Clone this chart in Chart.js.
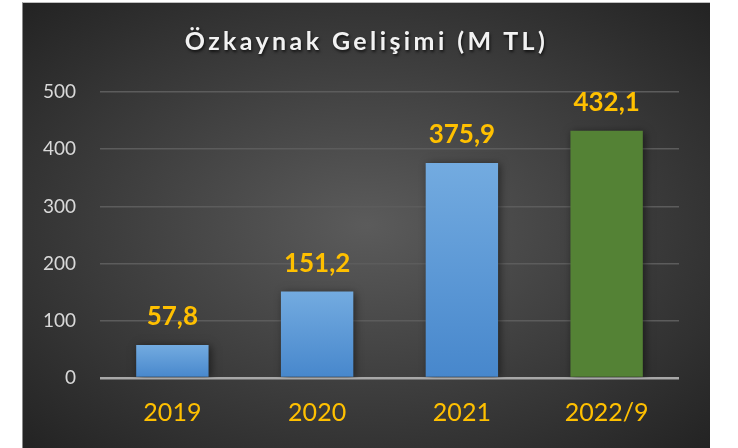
<!DOCTYPE html>
<html>
<head>
<meta charset="utf-8">
<script src="https://cdn.jsdelivr.net/npm/chart.js@4"></script>
<style>
  html, body { margin: 0; padding: 0; background: #fff; }
  #panel {
    position: absolute; left: 22px; top: 2px; width: 688px; height: 446px;
    border-top: 1px solid #bfbfbf; border-left: 1px solid #8a8a8a; box-sizing: border-box;
    background: radial-gradient(ellipse at 50% 50%, #5b5b5b 0%, #3c3c3c 55%, #232323 100%);
  }
  #title {
    position: absolute; left: 0; right: 0; top: 22px; text-align: center;
    font-family: Lato, sans-serif; font-weight: bold; font-size: 25px;
    letter-spacing: 3.4px; color: #f2f2f2; text-shadow: 1px 2px 3px rgba(0,0,0,0.7);
  }
  canvas { position: absolute; left: -1px; top: -1px; }
</style>
</head>
<body>
<div id="panel">
  <canvas id="chart" width="688" height="446"></canvas>
  <div id="title">Özkaynak Gelişimi (M TL)</div>
</div>
<script>
const years = ['2019', '2020', '2021', '2022/9'];
const equity = [57.8, 151.2, 375.9, 432.1];
const valueLabels = ['57,8', '151,2', '375,9', '432,1'];
const yTicks = [0, 100, 200, 300, 400, 500];

function barColor(ctx) {
    if (ctx.dataIndex === 3) return '#548235';
    const chart = ctx.chart;
    if (!chart.chartArea || !chart.scales.y) return '#5b9bd5';
    const top = chart.scales.y.getPixelForValue(ctx.raw);
    const bottom = chart.scales.y.getPixelForValue(0);
    const g = chart.ctx.createLinearGradient(0, top, 0, bottom);
    g.addColorStop(0, '#73abe0');
    g.addColorStop(1, '#4787cc');
    return g;
}

const barShadow = {
    id: 'barShadow',
    beforeDatasetDraw(chart) {
        const c = chart.ctx;
        c.save();
        c.shadowColor = 'rgba(0,0,0,0.5)';
        c.shadowBlur = 8;
        c.shadowOffsetX = 2;
        c.shadowOffsetY = 1;
    },
    afterDatasetDraw(chart) {
        chart.ctx.restore();
    }
};

const valueText = {
    id: 'valueText',
    afterDatasetsDraw(chart) {
        const c = chart.ctx;
        c.save();
        c.font = 'bold 26px Lato, sans-serif';
        c.fillStyle = '#ffc000';
        c.textAlign = 'center';
        c.textBaseline = 'alphabetic';
        chart.getDatasetMeta(0).data.forEach((bar, i) => {
            c.fillText(valueLabels[i], bar.x, bar.y - 20);
        });
        c.restore();
    }
};

new Chart(document.getElementById('chart'), {
    type: 'bar',
    data: {
        labels: years,
        datasets: [{
            data: equity,
            backgroundColor: barColor,
            borderWidth: 0,
            barPercentage: 0.5,
            categoryPercentage: 1
        }]
    },
    options: {
        responsive: false,
        animation: false,
        layout: { padding: { top: 90, right: 31, left: 0, bottom: 0 } },
        plugins: { legend: { display: false }, tooltip: { enabled: false } },
        scales: {
            x: {
                grid: { display: false, drawTicks: false },
                border: { display: false },
                ticks: { color: '#ffc000', font: { family: 'Lato', size: 25 }, padding: 20 },
                afterFit(s) { s.height = 70; }
            },
            y: {
                min: 0, max: 500,
                afterBuildTicks(s) { s.ticks = yTicks.map(v => ({ value: v })); },
                grid: {
                    drawTicks: false,
                    color: c => c.tick && c.tick.value === 0 ? '#a8a8a8' : '#5c5c5c',
                    lineWidth: c => c.tick && c.tick.value === 0 ? 2.5 : 1.5
                },
                border: { display: false },
                ticks: { color: '#d9d9d9', font: { family: 'Lato', size: 19 }, padding: 24 },
                afterFit(s) { s.width = 78; }
            }
        }
    },
    plugins: [barShadow, valueText]
});
</script>
</body>
</html>
